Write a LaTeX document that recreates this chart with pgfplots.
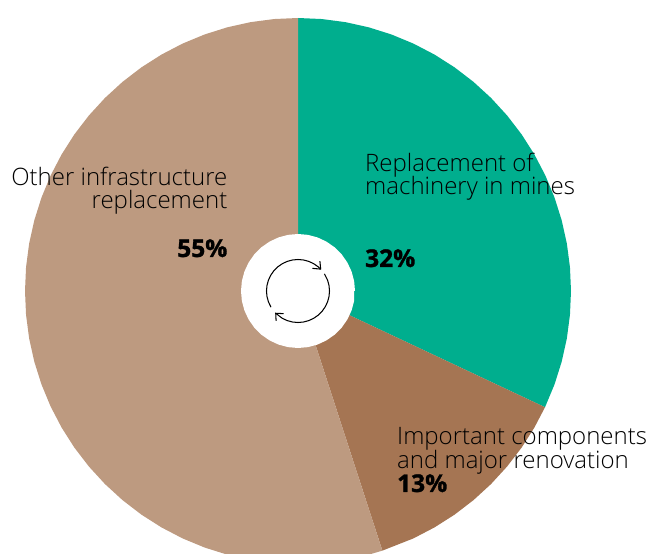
\documentclass[border=0pt]{standalone}
\usepackage{fontspec}
\setmainfont{Open Sans}
\newfontfamily\lightf{Open Sans Light}
\newfontfamily\xbold{Open Sans}[BoldFeatures={FakeBold=1.2}]
\usepackage{pgfplots}
\pgfplotsset{compat=1.18}
\definecolor{teal1}{HTML}{00AE8E}
\definecolor{brown1}{HTML}{A57553}
\definecolor{tan1}{HTML}{BD9A80}
\newcommand{\lab}[1]{{\lightf\fontsize{24}{24}\selectfont #1}}
\newcommand{\pct}[1]{{\xbold\bfseries\fontsize{24.5}{24}\selectfont #1}}
\begin{document}
\begin{tikzpicture}
\path[use as bounding box] (0,0) rectangle (648pt,554pt);
\begin{axis}[at={(0pt,0pt)},anchor=south west,scale only axis,width=648pt,height=554pt,
 xmin=-298,xmax=350,ymin=-263,ymax=291,hide axis,clip mode=individual]
% 32 % : 90 to -25.2 degrees
\addplot[fill=teal1,draw=none,data cs=polar] coordinates {(90,0)(90,273)(85,273)(80,273)(75,273)(70,273)(65,273)(60,273)(55,273)(50,273)(45,273)(40,273)(35,273)(30,273)(25,273)(20,273)(15,273)(10,273)(5,273)(0,273)(-5,273)(-10,273)(-15,273)(-20,273)(-25.2,273)(-25.2,0)} \closedcycle;
% 13 % : -25.2 to -72 degrees
\addplot[fill=brown1,draw=none,data cs=polar] coordinates {(-25.2,0)(-25.2,273)(-30,273)(-35,273)(-40,273)(-45,273)(-50,273)(-55,273)(-60,273)(-65,273)(-72,273)(-72,0)} \closedcycle;
% 55 % : -72 to -270 degrees
\addplot[fill=tan1,draw=none,data cs=polar] coordinates {(-72,0)(-72,273)(-75,273)(-80,273)(-85,273)(-90,273)(-95,273)(-100,273)(-105,273)(-110,273)(-115,273)(-120,273)(-125,273)(-130,273)(-135,273)(-140,273)(-145,273)(-150,273)(-155,273)(-160,273)(-165,273)(-170,273)(-175,273)(-180,273)(-185,273)(-190,273)(-195,273)(-200,273)(-205,273)(-210,273)(-215,273)(-220,273)(-225,273)(-230,273)(-235,273)(-240,273)(-245,273)(-250,273)(-255,273)(-260,273)(-265,273)(-270,273)(-270,0)} \closedcycle;
% centre hole
\addplot[fill=white,draw=none,data cs=polar] coordinates {(0,57)(10,57)(20,57)(30,57)(40,57)(50,57)(60,57)(70,57)(80,57)(90,57)(100,57)(110,57)(120,57)(130,57)(140,57)(150,57)(160,57)(170,57)(180,57)(190,57)(200,57)(210,57)(220,57)(230,57)(240,57)(250,57)(260,57)(270,57)(280,57)(290,57)(300,57)(310,57)(320,57)(330,57)(340,57)(350,57)} \closedcycle;
% recycling icon
\addplot[black,line width=1.05pt,no marks,data cs=polar] coordinates {(211,31.5)(200,31.5)(190,31.5)(180,31.5)(170,31.5)(160,31.5)(150,31.5)(140,31.5)(130,31.5)(120,31.5)(110,31.5)(100,31.5)(90,31.5)(80,31.5)(70,31.5)(60,31.5)(50,31.5)(44,31.5)};
\addplot[black,line width=1.05pt,no marks,data cs=polar] coordinates {(57.7,26.8)(44,31.5)(53.7,37)};
\addplot[black,line width=1.05pt,no marks,data cs=polar] coordinates {(33,31.5)(20,31.5)(10,31.5)(0,31.5)(-10,31.5)(-20,31.5)(-30,31.5)(-40,31.5)(-50,31.5)(-60,31.5)(-70,31.5)(-80,31.5)(-90,31.5)(-100,31.5)(-110,31.5)(-120,31.5)(-135,31.5)};
\addplot[black,line width=1.05pt,no marks,data cs=polar] coordinates {(-122.3,26.8)(-135,31.5)(-126.3,37)};
% labels
\node[anchor=base west,inner sep=0pt] at (axis cs:67,119) {\lab{Replacement of}};
\node[anchor=base west,inner sep=0pt] at (axis cs:67,96) {\lab{machinery in mines}};
\node[anchor=base west,inner sep=0pt] at (axis cs:67,24) {\pct{32\%}};
\node[anchor=base west,inner sep=0pt] at (axis cs:99,-154) {\lab{Important components}};
\node[anchor=base west,inner sep=0pt] at (axis cs:99,-178) {\lab{and major renovation}};
\node[anchor=base west,inner sep=0pt] at (axis cs:99,-201) {\pct{13\%}};
\node[anchor=base east,inner sep=0pt] at (axis cs:-70.5,105) {\lab{Other infrastructure}};
\node[anchor=base east,inner sep=0pt] at (axis cs:-70.5,82) {\lab{replacement}};
\node[anchor=base east,inner sep=0pt] at (axis cs:-70.5,34) {\pct{55\%}};
\end{axis}
\end{tikzpicture}
\end{document}
